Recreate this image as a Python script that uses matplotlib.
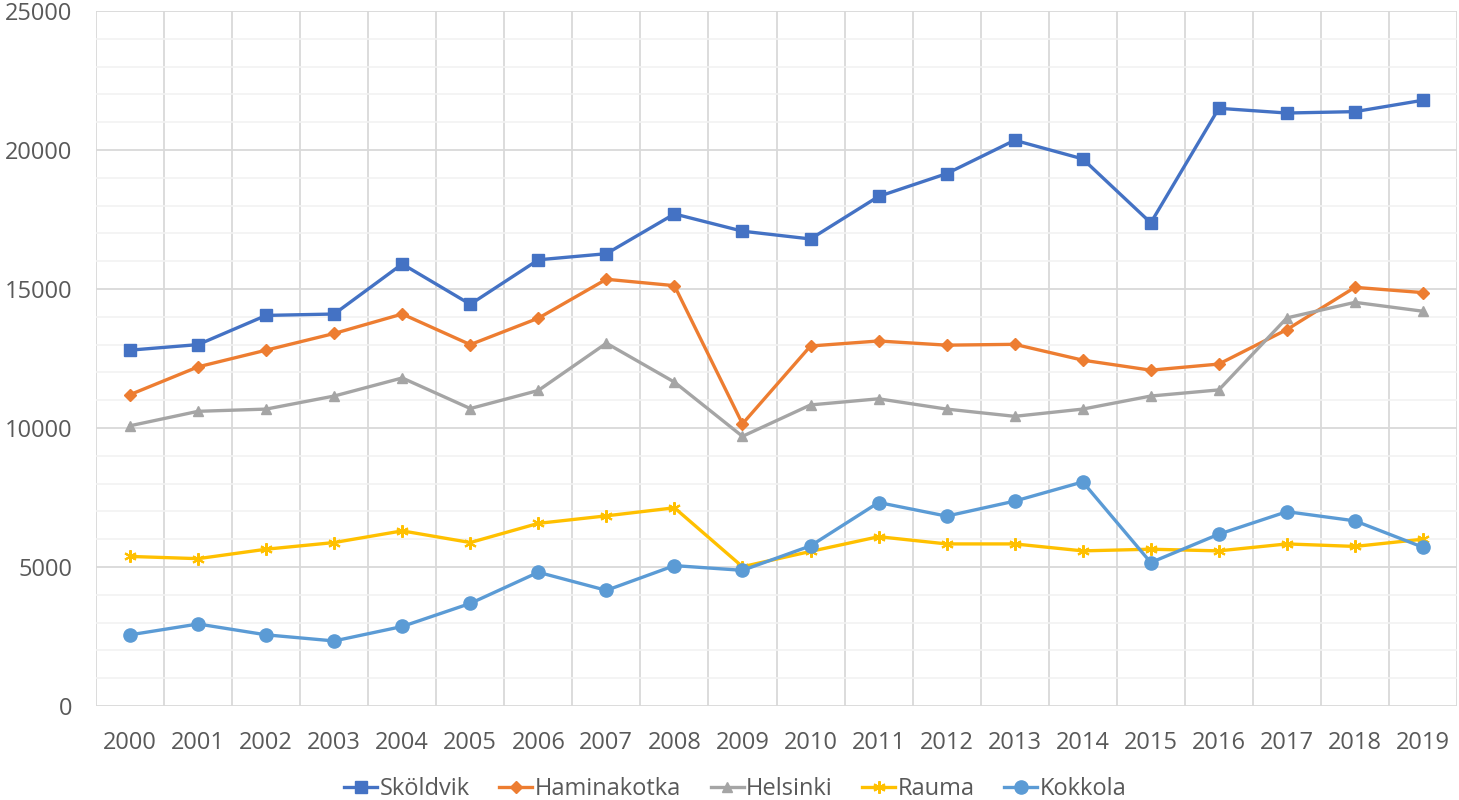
import matplotlib.pyplot as plt
import numpy as np

plt.rcParams['font.family'] = ['Open Sans', 'DejaVu Sans']

years = [str(y) for y in range(2000, 2020)]

skoldvik = [12800, 13000, 14050, 14100, 15900, 14450, 16050, 16270, 17700, 17080,
            16800, 18330, 19150, 20350, 19680, 17380, 21500, 21330, 21380, 21790]
haminakotka = [11200, 12200, 12800, 13400, 14100, 13000, 13950, 15350, 15120, 10150,
               12950, 13130, 12980, 13010, 12440, 12080, 12300, 13540, 15060, 14870]
helsinki = [10080, 10600, 10680, 11150, 11800, 10700, 11350, 13050, 11650, 9700,
            10830, 11050, 10680, 10420, 10680, 11150, 11370, 13960, 14520, 14200]
rauma = [5380, 5300, 5640, 5880, 6300, 5880, 6570, 6840, 7130, 5010,
         5560, 6090, 5830, 5830, 5580, 5640, 5580, 5830, 5740, 6000]
kokkola = [2560, 2950, 2560, 2340, 2860, 3690, 4810, 4160, 5050, 4880,
           5760, 7320, 6830, 7370, 8060, 5160, 6180, 6990, 6660, 5710]

series = [
    ("Sköldvik", skoldvik, "#4472C4", "s", 9),
    ("Haminakotka", haminakotka, "#ED7D31", "D", 6),
    ("Helsinki", helsinki, "#A5A5A5", "^", 7.5),
    ("Rauma", rauma, "#FFC000", (6, 2, 0), 9),
    ("Kokkola", kokkola, "#5B9BD5", "o", 9.5),
]

fig = plt.figure(figsize=(14.59, 8), dpi=100)
ax = fig.add_axes([96/1459, 1 - 706/800, (1457-96)/1459, (706-11)/800])

x = np.arange(len(years))
for name, vals, col, mk, ms in series:
    ax.plot(x, vals, color=col, lw=2.4, marker=mk, markersize=ms,
            markeredgewidth=1.5 if mk == (6, 2, 0) else 1, markeredgecolor=col,
            markerfacecolor=col, label=name)

ax.set_xlim(-0.5, len(years) - 0.5)
ax.set_ylim(0, 25000)
ax.set_xticks(x)
ax.set_xticklabels(years)
ax.set_xticks(np.arange(-0.5, len(years)), minor=True)
ax.set_yticks(np.arange(0, 25001, 5000))
ax.set_yticks(np.arange(0, 25001, 1000), minor=True)

ax.grid(which='minor', axis='y', color='#F2F2F2', lw=1.2)
ax.grid(which='major', axis='y', color='#D9D9D9', lw=1.3)
ax.grid(which='minor', axis='x', color='#D9D9D9', lw=1.3)
ax.set_axisbelow(True)

for s in ax.spines.values():
    s.set_visible(False)
ax.tick_params(which='both', length=0, labelsize=17, labelcolor='#595959')
ax.tick_params(axis='y', pad=17)
ax.tick_params(axis='x', pad=18)

fig.legend(loc='center', bbox_to_anchor=(0.504, 1 - 789/800), ncol=5,
           frameon=False, fontsize=17, handlelength=1.4, handletextpad=0.1,
           columnspacing=1.25, labelcolor='#595959')

fig.savefig("out.png", dpi=100, facecolor='white')
